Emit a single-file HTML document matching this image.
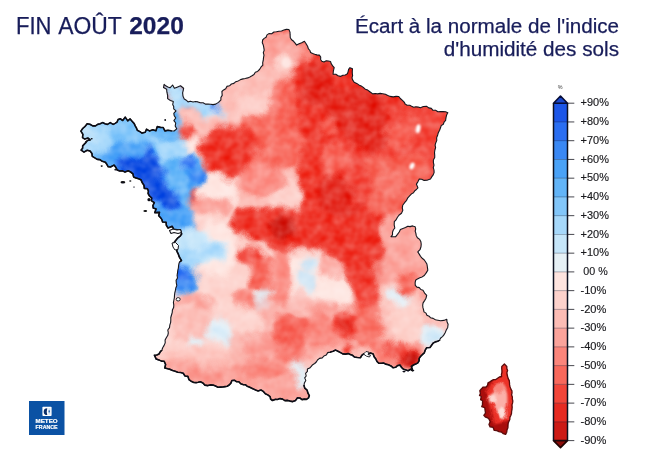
<!DOCTYPE html>
<html lang="fr"><head><meta charset="utf-8"><title>Écart à la normale de l'indice d'humidité des sols</title>
<style>
html,body{margin:0;padding:0;background:#fff;}
body{width:650px;height:462px;overflow:hidden;font-family:"Liberation Sans",sans-serif;}
svg{display:block;}
text{font-family:"Liberation Sans",sans-serif;}
</style></head><body>
<svg width="650" height="462" viewBox="0 0 650 462">
<defs>
<clipPath id="fr"><path d="M80.9,131.1 L82.7,128.5 L85.0,126.5 L87.2,123.7 L89.9,124.3 L92.8,125.9 L95.5,125.9 L97.7,124.4 L100.2,123.8 L102.6,122.6 L105.0,123.7 L107.5,124.4 L110.3,122.6 L113.1,124.4 L115.1,123.4 L117.0,122.1 L118.1,119.6 L120.2,118.7 L122.7,120.5 L125.2,117.1 L127.8,120.9 L130.1,118.9 L132.1,121.3 L134.2,123.6 L135.2,125.8 L136.4,127.9 L137.3,130.2 L139.5,131.4 L142.0,133.1 L145.2,132.2 L146.5,129.2 L149.4,130.9 L152.8,129.7 L155.9,130.8 L157.3,126.6 L160.5,127.4 L163.2,127.5 L164.9,130.9 L168.0,130.3 L171.0,130.7 L174.1,131.0 L176.7,128.8 L175.2,126.1 L175.7,123.0 L173.9,120.6 L175.7,118.0 L174.2,115.6 L173.8,113.4 L176.0,110.8 L173.7,108.9 L173.7,106.6 L172.7,104.5 L173.3,101.6 L170.4,100.5 L167.6,98.6 L167.6,95.4 L166.9,92.2 L166.6,89.2 L163.5,87.6 L164.1,84.3 L165.7,85.8 L167.9,86.9 L170.0,87.8 L172.6,85.0 L174.4,88.3 L176.5,87.4 L180.5,85.8 L183.6,88.3 L183.2,90.6 L182.6,92.9 L183.0,96.1 L184.3,99.1 L186.3,100.2 L188.0,101.9 L190.5,101.3 L193.0,102.0 L195.5,101.5 L198.0,101.9 L200.4,102.8 L203.1,102.7 L205.4,104.1 L208.0,104.0 L210.6,104.2 L213.1,104.6 L215.6,104.1 L218.5,102.4 L220.9,99.9 L220.9,97.5 L222.2,95.4 L221.9,91.5 L223.6,89.9 L225.7,88.7 L226.9,86.4 L229.5,85.8 L231.4,84.0 L233.9,83.4 L235.8,81.7 L238.3,80.9 L240.5,79.6 L243.0,78.9 L245.3,78.5 L247.7,77.9 L249.9,77.0 L252.0,75.8 L254.0,74.5 L255.3,72.2 L257.6,71.4 L259.5,69.5 L260.9,67.2 L262.8,65.2 L262.7,62.7 L263.3,60.2 L263.5,57.7 L264.0,55.2 L263.3,52.7 L264.2,50.1 L263.8,47.6 L263.3,45.1 L262.3,42.7 L262.6,40.0 L264.2,38.4 L266.1,37.2 L267.0,34.9 L268.9,33.6 L271.7,33.8 L273.9,32.0 L276.4,31.7 L279.0,31.2 L281.5,31.0 L283.9,30.0 L286.4,29.4 L288.9,29.5 L290.0,32.1 L290.1,34.9 L290.3,37.7 L291.6,39.7 L293.6,41.3 L295.1,43.2 L296.6,45.1 L299.1,43.8 L301.7,42.7 L304.4,41.3 L306.1,43.8 L307.7,46.5 L308.3,48.7 L309.9,50.5 L310.6,52.5 L312.6,53.5 L314.7,54.3 L316.9,54.9 L319.4,55.1 L320.7,57.0 L320.6,59.5 L321.8,61.3 L324.0,62.0 L326.2,60.8 L328.4,61.0 L330.5,61.5 L331.3,63.9 L332.7,65.8 L334.2,67.7 L333.4,70.8 L333.1,74.1 L335.8,74.3 L338.1,75.8 L340.5,76.4 L342.8,75.3 L345.3,75.0 L347.4,73.8 L348.1,71.6 L348.6,69.4 L349.9,67.7 L352.5,68.8 L352.3,71.1 L352.3,73.3 L352.6,75.6 L352.0,77.8 L352.6,79.9 L354.2,82.2 L356.7,83.4 L358.9,84.9 L361.2,86.0 L363.3,87.4 L365.3,89.2 L367.7,90.1 L370.2,92.0 L372.7,93.9 L375.2,93.5 L377.7,93.9 L380.2,93.4 L382.7,93.8 L385.4,94.3 L387.8,95.5 L390.3,96.4 L393.2,96.9 L396.1,96.4 L398.8,96.5 L400.3,98.5 L402.2,100.2 L404.0,101.9 L405.3,104.1 L407.2,105.3 L409.7,105.3 L411.6,106.3 L413.7,107.3 L416.0,106.8 L418.2,107.1 L420.4,107.8 L423.4,106.5 L426.8,106.4 L428.7,107.9 L431.3,108.4 L433.0,110.3 L435.6,110.3 L437.9,111.7 L440.5,111.5 L443.1,111.6 L445.6,111.8 L447.8,112.7 L446.6,115.1 L446.0,117.7 L445.6,120.4 L444.1,122.1 L443.3,124.2 L441.2,125.6 L440.5,127.8 L439.6,130.3 L438.3,132.7 L437.6,135.3 L436.6,137.9 L436.8,140.4 L435.8,142.7 L435.1,145.1 L435.6,147.6 L434.9,150.0 L434.5,152.5 L434.7,155.1 L434.7,157.6 L433.4,160.0 L433.4,162.6 L434.0,165.1 L433.3,167.7 L434.0,170.2 L434.1,172.6 L433.2,174.9 L431.7,176.9 L430.5,179.1 L427.5,180.1 L424.1,180.4 L421.7,179.2 L419.3,179.1 L418.0,181.6 L416.4,184.1 L417.9,187.8 L416.4,189.5 L414.7,190.9 L413.5,192.7 L411.5,193.9 L409.6,195.8 L407.8,197.8 L406.6,200.3 L404.6,202.7 L402.7,205.3 L402.3,207.9 L402.8,210.4 L401.5,213.3 L398.9,215.3 L397.3,217.5 L396.0,219.9 L394.3,221.7 L394.2,224.9 L394.8,228.0 L393.3,230.0 L392.5,232.2 L392.5,234.8 L391.0,236.6 L393.4,236.8 L395.7,236.6 L397.5,234.3 L399.2,232.0 L400.4,229.4 L402.9,228.4 L405.5,227.5 L407.8,226.2 L410.1,226.6 L412.6,225.9 L415.1,226.7 L415.7,228.8 L415.2,231.1 L415.9,233.3 L416.2,235.4 L417.4,237.8 L419.7,239.4 L420.9,241.8 L421.2,244.3 L421.0,246.8 L420.0,249.7 L417.8,251.9 L419.2,254.1 L420.5,256.3 L422.1,258.2 L424.1,259.8 L425.5,261.8 L426.9,264.0 L427.4,267.1 L427.8,270.2 L426.2,272.9 L424.3,275.5 L422.2,276.9 L419.8,277.8 L417.5,278.9 L415.6,280.3 L415.1,282.8 L415.3,285.4 L416.9,287.1 L419.3,287.6 L420.8,289.5 L423.0,290.3 L424.6,293.1 L426.7,295.4 L426.0,298.2 L424.6,300.6 L423.1,302.9 L422.7,305.2 L422.9,307.4 L423.5,309.6 L424.0,311.9 L426.0,313.1 L426.9,315.3 L429.1,316.2 L430.6,317.8 L433.1,318.4 L435.4,319.8 L437.9,320.2 L440.5,320.7 L443.8,320.4 L446.8,319.2 L447.0,321.8 L448.1,324.3 L447.7,327.4 L446.3,329.9 L445.3,332.5 L443.9,334.9 L442.5,336.6 L440.7,338.0 L439.6,340.1 L437.7,341.3 L435.3,341.9 L433.2,343.1 L431.6,345.2 L430.0,347.5 L426.7,347.7 L425.2,350.2 L424.3,352.8 L422.3,354.7 L420.5,356.5 L419.2,358.4 L419.1,360.8 L417.8,362.9 L415.7,364.1 L413.4,365.0 L411.4,366.5 L412.7,370.6 L410.6,369.3 L408.1,370.7 L406.0,370.0 L403.6,369.3 L401.6,367.5 L400.1,365.1 L397.6,365.5 L395.6,367.3 L393.2,367.8 L391.0,365.9 L388.4,364.7 L385.6,364.1 L383.5,363.0 L381.1,363.2 L378.7,363.1 L377.0,361.5 L375.8,358.9 L374.1,356.7 L373.2,353.9 L370.6,352.9 L367.6,354.0 L364.0,353.7 L361.8,355.3 L360.5,357.7 L357.4,357.5 L354.4,357.0 L352.6,355.3 L350.3,354.6 L348.1,353.6 L345.4,354.1 L342.8,353.9 L340.5,352.6 L337.9,351.2 L335.6,350.1 L333.1,351.2 L330.5,352.1 L327.7,352.6 L326.3,355.0 L323.9,356.0 L322.3,357.9 L319.5,358.4 L317.5,360.0 L316.3,362.0 L314.7,363.5 L312.7,364.7 L311.3,366.4 L309.7,368.0 L307.4,369.0 L307.4,371.4 L305.6,373.3 L306.2,376.0 L304.7,377.9 L305.8,380.4 L304.4,383.0 L304.0,385.5 L304.8,388.2 L307.1,390.2 L307.9,392.9 L309.3,395.7 L308.5,397.9 L306.5,399.4 L304.3,399.1 L302.0,399.6 L299.9,398.0 L297.5,397.7 L295.6,400.4 L292.8,401.6 L290.2,401.1 L287.7,400.4 L284.9,400.6 L282.6,399.1 L280.0,398.6 L277.5,399.5 L275.0,399.4 L272.5,400.5 L270.6,399.0 L270.1,396.6 L267.8,394.9 L265.3,393.7 L263.3,391.4 L261.0,390.0 L258.1,390.9 L255.6,390.0 L253.3,388.9 L251.3,388.0 L249.2,387.0 L247.1,386.2 L245.3,384.7 L243.0,384.6 L240.7,383.7 L238.9,381.8 L236.4,381.6 L234.4,380.2 L231.9,380.5 L230.9,383.1 L229.2,385.0 L227.2,386.2 L225.0,386.6 L222.8,387.0 L220.5,387.1 L217.9,387.2 L215.5,386.1 L213.0,385.1 L210.5,384.9 L207.8,385.6 L204.9,385.1 L202.9,383.0 L200.4,381.7 L198.2,382.3 L196.0,382.6 L193.8,382.5 L191.7,381.6 L189.0,379.7 L187.9,376.4 L185.0,376.0 L183.2,373.3 L180.5,372.5 L177.7,372.2 L175.2,371.2 L172.6,370.5 L170.2,369.4 L167.7,368.8 L164.8,367.9 L165.6,364.5 L164.1,361.2 L161.4,361.1 L158.9,359.9 L156.2,359.1 L154.4,355.2 L156.8,355.0 L159.0,354.0 L160.2,351.9 L161.9,350.0 L162.7,347.7 L164.1,345.4 L165.2,342.9 L165.1,340.0 L166.3,337.7 L167.8,335.3 L168.3,332.8 L167.8,330.0 L169.5,327.7 L169.8,325.1 L170.6,322.7 L170.8,320.1 L170.8,317.5 L171.5,315.0 L172.2,312.6 L172.4,310.1 L173.6,307.6 L173.8,305.1 L173.4,302.5 L173.9,300.0 L174.4,297.6 L174.5,295.2 L174.8,292.8 L175.4,290.4 L175.8,288.0 L176.8,285.6 L176.3,283.0 L176.1,280.4 L177.5,278.0 L177.1,275.4 L177.5,272.9 L177.8,270.3 L178.4,267.8 L178.6,265.3 L179.1,262.9 L181.5,260.4 L180.2,258.5 L179.1,256.5 L178.3,254.0 L177.0,251.6 L176.6,249.0 L175.1,247.1 L174.6,244.9 L174.0,242.7 L175.9,240.2 L177.9,237.8 L180.1,236.2 L181.7,233.9 L180.3,230.0 L177.1,229.7 L173.8,229.3 L172.2,226.3 L168.1,228.1 L166.3,225.3 L166.1,222.2 L162.6,222.0 L161.8,219.4 L160.4,217.5 L158.7,215.7 L159.5,212.4 L154.8,212.6 L156.1,208.9 L153.2,207.9 L152.9,205.5 L154.3,202.7 L151.3,200.6 L151.7,198.0 L149.4,195.9 L148.1,193.5 L148.4,191.0 L147.4,188.7 L144.3,188.4 L144.0,185.4 L142.3,182.8 L140.9,179.7 L138.5,178.7 L135.9,177.9 L133.6,176.9 L132.9,173.8 L130.6,172.0 L128.2,170.8 L125.0,172.1 L122.6,170.9 L119.7,171.0 L117.2,170.0 L115.6,167.1 L114.0,165.1 L110.5,167.0 L108.1,166.7 L106.8,164.3 L105.4,162.3 L102.2,161.3 L99.9,159.6 L97.2,159.4 L94.8,157.9 L92.3,156.4 L91.9,153.4 L90.1,151.1 L87.2,150.3 L84.0,152.1 L81.1,150.1 L82.6,148.3 L82.7,145.9 L84.1,144.4 L85.8,142.6 L87.4,140.5 L90.1,139.9 L88.0,138.0 L84.8,139.1 L82.5,137.6 L82.9,134.3Z"/><path d="M504.4,364.0 L506.8,366.5 L506.8,368.5 L507.6,370.5 L506.9,372.5 L507.1,374.5 L507.6,376.5 L508.2,378.6 L509.3,380.6 L509.5,382.8 L509.6,384.9 L510.1,386.9 L510.8,388.9 L511.9,390.8 L512.0,392.9 L511.6,394.9 L512.4,396.9 L512.3,398.9 L512.8,400.9 L512.6,402.9 L512.0,404.9 L512.2,407.1 L512.0,409.3 L511.6,411.3 L511.5,413.5 L510.8,415.5 L509.9,417.4 L509.8,419.5 L508.9,421.4 L508.2,423.4 L508.0,425.5 L507.9,427.8 L507.0,429.9 L506.7,432.2 L505.6,434.4 L503.3,433.7 L501.4,432.1 L498.9,431.7 L496.8,430.6 L494.1,430.3 L493.1,427.3 L490.1,426.9 L489.0,424.5 L490.1,421.7 L489.2,419.4 L487.7,417.9 L485.6,417.2 L483.8,415.4 L485.5,413.1 L485.2,410.8 L484.7,407.6 L481.7,406.7 L482.5,404.7 L482.5,402.5 L482.6,400.7 L480.6,399.6 L481.3,396.5 L479.5,395.5 L480.4,393.4 L479.8,390.7 L481.5,388.8 L482.9,387.1 L486.0,387.0 L487.5,385.4 L488.0,382.8 L489.9,381.8 L491.7,380.6 L493.5,379.6 L495.8,379.5 L497.6,378.2 L499.4,377.0 L501.6,376.5 L501.4,374.5 L501.9,372.5 L501.9,370.5 L501.7,368.5 L501.8,366.4Z"/></clipPath>
<filter id="bl" x="-10%" y="-10%" width="120%" height="120%" color-interpolation-filters="sRGB">
<feGaussianBlur stdDeviation="2.4" result="g"/>
<feTurbulence type="fractalNoise" baseFrequency="0.045" numOctaves="3" seed="7" result="n"/>
<feDisplacementMap in="g" in2="n" scale="16" xChannelSelector="R" yChannelSelector="G" result="d"/>
<feGaussianBlur in="d" stdDeviation="0.7" result="d2"/>
<feTurbulence type="fractalNoise" baseFrequency="0.09" numOctaves="2" seed="11" result="t"/>
<feColorMatrix in="t" type="matrix" values="1 0 0 0 0  1 0 0 0 0  1 0 0 0 0  0 0 0 0 1" result="tm"/>
<feComposite in="d2" in2="tm" operator="arithmetic" k1="-0.48" k2="1.202" k3="0.48" k4="-0.202"/>
</filter>
<clipPath id="co"><path d="M504.4,364.0 L506.8,366.5 L506.8,368.5 L507.6,370.5 L506.9,372.5 L507.1,374.5 L507.6,376.5 L508.2,378.6 L509.3,380.6 L509.5,382.8 L509.6,384.9 L510.1,386.9 L510.8,388.9 L511.9,390.8 L512.0,392.9 L511.6,394.9 L512.4,396.9 L512.3,398.9 L512.8,400.9 L512.6,402.9 L512.0,404.9 L512.2,407.1 L512.0,409.3 L511.6,411.3 L511.5,413.5 L510.8,415.5 L509.9,417.4 L509.8,419.5 L508.9,421.4 L508.2,423.4 L508.0,425.5 L507.9,427.8 L507.0,429.9 L506.7,432.2 L505.6,434.4 L503.3,433.7 L501.4,432.1 L498.9,431.7 L496.8,430.6 L494.1,430.3 L493.1,427.3 L490.1,426.9 L489.0,424.5 L490.1,421.7 L489.2,419.4 L487.7,417.9 L485.6,417.2 L483.8,415.4 L485.5,413.1 L485.2,410.8 L484.7,407.6 L481.7,406.7 L482.5,404.7 L482.5,402.5 L482.6,400.7 L480.6,399.6 L481.3,396.5 L479.5,395.5 L480.4,393.4 L479.8,390.7 L481.5,388.8 L482.9,387.1 L486.0,387.0 L487.5,385.4 L488.0,382.8 L489.9,381.8 L491.7,380.6 L493.5,379.6 L495.8,379.5 L497.6,378.2 L499.4,377.0 L501.6,376.5 L501.4,374.5 L501.9,372.5 L501.9,370.5 L501.7,368.5 L501.8,366.4Z"/></clipPath>
<filter id="cf" x="-20%" y="-20%" width="140%" height="140%" color-interpolation-filters="sRGB">
<feGaussianBlur stdDeviation="1.3" result="g"/>
<feTurbulence type="fractalNoise" baseFrequency="0.12" numOctaves="2" seed="4" result="n"/>
<feDisplacementMap in="g" in2="n" scale="6" xChannelSelector="R" yChannelSelector="G"/>
</filter>
<clipPath id="brc"><path d="M70,110 L172,110 L172,135 L150,140 L150,160 L172,215 L188,225 L188,262 L160,262 L70,170 Z"/><path d="M148,350 L168,350 L168,362 L300,385 L316,385 L316,410 L148,410 Z"/><path d="M330,340 L452,340 L452,376 L330,376 Z"/></clipPath>
<filter id="soft2" x="-50%" y="-50%" width="200%" height="200%"><feGaussianBlur stdDeviation="0.8"/></filter>
<filter id="soft" x="-5%" y="-5%" width="110%" height="110%"><feGaussianBlur stdDeviation="0.35"/></filter>
</defs>
<rect width="650" height="462" fill="#ffffff"/>
<g clip-path="url(#fr)">
<g filter="url(#bl)">
<rect x="40" y="0" width="520" height="462" fill="#f2453a"/>
<polygon points="140.0,240.0 330.0,240.0 330.0,420.0 140.0,420.0" fill="#fdd3cd"/>
<polygon points="60.0,100.0 185.0,100.0 185.0,240.0 140.0,240.0 60.0,170.0" fill="#62b4f8"/>
<polygon points="380.0,225.0 470.0,225.0 470.0,380.0 380.0,380.0" fill="#fba39b"/>
<polygon points="219.8,87.3 262.2,64.9 262.2,32.5 292.1,27.5 294.6,42.4 302.1,49.9 295.8,69.9 284.6,89.8 279.6,107.3 272.2,122.2 242.3,127.2 219.8,124.7" fill="#fcbdb6"/>
<polygon points="263.4,33.7 290.9,28.7 293.3,43.7 299.6,51.2 293.3,67.4 277.1,69.9 264.7,62.4" fill="#fba39b"/>
<polygon points="280.4,54.4 287.9,54.4 291.6,59.0 291.6,68.2 287.9,72.9 280.4,72.9 276.7,68.2 276.7,59.0" fill="#fdd3cd"/>
<polygon points="245.4,92.3 266.6,92.3 277.1,99.2 277.1,112.9 266.6,119.7 245.4,119.7 234.8,112.9 234.8,99.2" fill="#fdd3cd" opacity="0.7"/>
<polygon points="264.7,107.3 274.7,107.3 279.6,110.4 279.6,116.6 274.7,119.7 264.7,119.7 259.7,116.6 259.7,110.4" fill="#fdd3cd"/>
<polygon points="293.3,40.0 309.6,44.9 309.6,99.8 279.6,124.7 277.1,107.3 283.4,89.8 294.6,69.9 300.8,49.9" fill="#f7685c" opacity="0.9"/>
<polygon points="299.6,54.9 322.0,49.9 322.0,139.9 284.6,139.9 284.6,107.3 292.1,82.3" fill="#ee3226"/>
<polygon points="162.5,82.3 184.9,84.8 186.2,98.5 221.1,101.0 222.3,116.0 209.9,118.5 197.4,111.0 184.9,109.7 173.7,113.5 171.2,99.8 163.7,92.3" fill="#a6d8fb"/>
<polygon points="171.2,87.3 178.7,87.3 182.4,90.4 182.4,96.7 178.7,99.8 171.2,99.8 167.5,96.7 167.5,90.4" fill="#c6e6fa" opacity="0.8"/>
<polygon points="212.3,107.3 219.8,107.3 223.6,113.5 223.6,125.9 219.8,132.2 212.3,132.2 208.6,125.9 208.6,113.5" fill="#c6e6fa"/>
<polygon points="216.0,102.8 218.2,102.8 219.3,105.1 219.3,109.9 218.2,112.2 216.0,112.2 214.8,109.9 214.8,105.1" fill="#2a6ef2"/>
<polygon points="175.0,111.0 197.4,111.0 209.9,118.5 209.9,134.7 175.0,134.7" fill="#fcbdb6"/>
<polygon points="163.7,128.4 171.2,128.4 175.0,130.3 175.0,134.0 171.2,135.9 163.7,135.9 160.0,134.0 160.0,130.3" fill="#fdd3cd"/>
<polygon points="163.1,129.7 169.3,129.7 172.5,130.9 172.5,133.4 169.3,134.7 163.1,134.7 160.0,133.4 160.0,130.9" fill="#c6e6fa" opacity="0.7"/>
<polygon points="181.5,124.7 192.1,124.7 197.4,129.1 197.4,137.8 192.1,142.1 181.5,142.1 176.2,137.8 176.2,129.1" fill="#f2453a"/>
<polygon points="222.3,123.5 242.3,127.2 272.2,122.2 284.6,124.7 284.6,142.1 222.3,142.1" fill="#f2453a"/>
<polygon points="300.0,40.0 462.0,107.3 462.0,142.1 300.0,142.1" fill="#ee3226"/>
<polygon points="302.6,42.4 307.9,42.4 310.5,47.1 310.5,56.5 307.9,61.1 302.6,61.1 300.0,56.5 300.0,47.1" fill="#fa867c"/>
<polygon points="311.2,62.4 326.2,62.4 333.6,72.4 333.6,92.3 326.2,102.3 311.2,102.3 303.7,92.3 303.7,72.4" fill="#e4281e"/>
<polygon points="357.3,84.8 374.8,84.8 383.5,95.4 383.5,116.6 374.8,127.2 357.3,127.2 348.6,116.6 348.6,95.4" fill="#e4281e"/>
<polygon points="324.9,87.3 354.8,92.3 364.8,124.7 339.9,129.7 322.4,107.3" fill="#e4281e" opacity="0.8"/>
<polygon points="319.9,116.0 332.4,116.0 338.6,121.0 338.6,130.9 332.4,135.9 319.9,135.9 313.7,130.9 313.7,121.0" fill="#f7685c" opacity="0.8"/>
<polygon points="386.0,108.5 449.6,109.7 439.6,142.1 386.0,142.1" fill="#f2453a"/>
<polygon points="404.1,114.7 412.8,114.7 417.1,118.5 417.1,125.9 412.8,129.7 404.1,129.7 399.7,125.9 399.7,118.5" fill="#f7685c" opacity="0.7"/>
<polygon points="357.3,112.5 374.8,112.5 383.5,122.5 383.5,142.4 374.8,152.4 357.3,152.4 348.6,142.4 348.6,122.5" fill="#e4281e"/>
<polygon points="320.6,177.3 341.7,177.3 352.3,188.5 352.3,211.0 341.7,222.2 320.6,222.2 310.0,211.0 310.0,188.5" fill="#e4281e"/>
<polygon points="300.0,209.7 364.8,207.2 364.8,232.1 300.0,232.1" fill="#e4281e"/>
<polygon points="319.3,148.6 340.5,148.6 351.1,154.9 351.1,167.3 340.5,173.6 319.3,173.6 308.7,167.3 308.7,154.9" fill="#f7685c" opacity="0.8"/>
<polygon points="390.7,126.2 407.5,126.2 415.9,131.2 415.9,141.2 407.5,146.2 390.7,146.2 382.3,141.2 382.3,131.2" fill="#f7685c" opacity="0.8"/>
<polygon points="366.1,157.4 424.6,154.9 429.6,177.3 404.7,214.7 369.8,214.7" fill="#f7685c" opacity="0.85"/>
<polygon points="382.3,172.3 397.2,172.3 404.7,178.6 404.7,191.0 397.2,197.3 382.3,197.3 374.8,191.0 374.8,178.6" fill="#fa867c" opacity="0.6"/>
<polygon points="242.3,115.0 284.6,115.0 322.0,139.9 322.0,177.3 242.3,177.3" fill="#f7685c" opacity="0.9"/>
<polygon points="279.6,115.0 322.0,115.0 322.0,142.4 299.6,137.4" fill="#ee3226"/>
<polygon points="299.6,139.9 322.0,139.9 322.0,232.1 299.6,232.1" fill="#ee3226" opacity="0.9"/>
<polygon points="184.9,115.0 222.3,115.0 222.3,147.4 202.4,149.9 184.9,144.9" fill="#fcbdb6"/>
<polygon points="183.7,138.7 203.6,141.2 204.9,166.1 184.9,164.9" fill="#fee6e1"/>
<polygon points="194.9,171.1 242.3,171.1 244.7,214.7 222.3,219.7 197.4,197.3" fill="#fee6e1"/>
<polygon points="234.8,168.6 299.6,164.9 300.8,214.7 234.8,214.7" fill="#fcbdb6"/>
<polygon points="275.3,178.6 291.5,178.6 299.6,187.0 299.6,203.8 291.5,212.2 275.3,212.2 267.2,203.8 267.2,187.0" fill="#fdd3cd" opacity="0.9"/>
<polygon points="242.9,168.6 259.1,168.6 267.2,173.3 267.2,182.6 259.1,187.3 242.9,187.3 234.8,182.6 234.8,173.3" fill="#fba39b" opacity="0.8"/>
<polygon points="265.9,144.9 288.4,144.9 299.6,150.8 299.6,162.7 288.4,168.6 265.9,168.6 254.7,162.7 254.7,150.8" fill="#fa867c" opacity="0.7"/>
<polygon points="197.4,198.5 219.8,198.5 231.0,206.9 231.0,223.7 219.8,232.1 197.4,232.1 186.2,223.7 186.2,206.9" fill="#fba39b"/>
<polygon points="234.8,211.0 322.0,208.5 322.0,232.1 234.8,232.1" fill="#f2453a"/>
<polygon points="259.7,217.2 322.0,214.7 322.0,232.1 259.7,232.1" fill="#ee3226"/>
<polygon points="201.1,138.7 222.3,121.2 246.0,126.2 256.0,137.4 258.5,156.1 249.7,171.1 229.8,176.1 209.9,172.3 198.6,154.9" fill="#f2453a"/>
<polygon points="203.6,139.9 222.3,125.0 243.5,130.0 252.2,144.9 247.2,166.1 229.8,172.8 211.1,170.3 201.9,154.9" fill="#ee3226"/>
<polygon points="181.6,124.5 190.8,124.5 195.4,127.2 195.4,132.7 190.8,135.4 181.6,135.4 176.9,132.7 176.9,127.2" fill="#f2453a"/>
<polygon points="160.0,133.7 184.9,134.9 186.2,158.6 160.0,158.6" fill="#a6d8fb"/>
<polygon points="160.0,157.4 197.4,157.4 208.6,174.8 207.4,184.8 197.4,189.8 187.4,202.2 193.6,232.1 160.0,232.1" fill="#4aa2f7"/>
<polygon points="183.8,159.4 190.0,159.4 193.2,161.9 193.2,166.8 190.0,169.3 183.8,169.3 180.7,166.8 180.7,161.9" fill="#2a6ef2"/>
<polygon points="195.0,169.3 204.1,169.3 208.6,172.9 208.6,180.0 204.1,183.5 195.0,183.5 190.4,180.0 190.4,172.9" fill="#3a88f4"/>
<polygon points="162.0,188.5 171.0,188.5 175.5,192.9 175.5,201.6 171.0,206.0 162.0,206.0 157.5,201.6 157.5,192.9" fill="#1450e2"/>
<polygon points="272.0,84.0 296.0,80.0 300.0,120.0 296.0,165.0 270.0,165.0 266.0,120.0" fill="#f7685c" opacity="0.8"/>
<polygon points="242.0,166.0 282.0,164.0 286.0,190.0 262.0,196.0 240.0,190.0" fill="#fa867c" opacity="0.85"/>
<polygon points="188.0,200.0 228.0,198.0 232.0,230.0 190.0,232.0" fill="#fba39b" opacity="0.7"/>
<polygon points="73.0,115.0 175.2,110.0 185.2,157.4 187.7,232.1 152.8,232.1 73.0,164.9" fill="#62b4f8"/>
<polygon points="91.7,123.7 152.8,123.7 152.8,144.9 127.9,152.4 93.0,149.9" fill="#82c6fa"/>
<polygon points="100.4,142.4 142.8,139.9 162.7,159.9 164.0,199.7 182.7,232.1 147.8,232.1 122.9,179.8 101.7,162.4" fill="#4aa2f7"/>
<polygon points="73.0,122.5 107.9,120.0 109.2,144.9 100.4,154.9 73.0,157.4" fill="#a6d8fb"/>
<polygon points="73.0,125.0 95.4,125.0 95.4,144.9 73.0,144.9" fill="#c6e6fa" opacity="0.7"/>
<polygon points="152.8,138.7 182.7,138.7 183.9,159.9 160.3,158.6" fill="#a6d8fb"/>
<polygon points="157.8,157.4 187.7,157.4 188.9,232.1 175.2,232.1 160.3,197.3" fill="#62b4f8" opacity="0.8"/>
<polygon points="120.4,161.1 140.3,156.1 146.5,144.9 156.5,156.1 162.7,164.9 160.3,177.3 165.2,186.0 177.7,193.5 181.4,211.0 162.7,211.0 150.3,198.5 140.8,188.5 136.6,181.1 127.9,176.8 120.4,171.1" fill="#2a6ef2"/>
<polygon points="122.9,161.9 140.3,158.6 145.8,146.9 154.3,157.9 159.8,164.9 157.3,177.3 162.2,186.8 174.7,194.3 177.7,207.2 162.7,207.2 152.3,196.8 142.8,186.8 138.6,179.3 130.3,175.3 122.9,169.8" fill="#1450e2"/>
<polygon points="183.8,159.4 190.0,159.4 193.2,161.9 193.2,166.8 190.0,169.3 183.8,169.3 180.7,166.8 180.7,161.9" fill="#2a6ef2"/>
<polygon points="195.0,170.3 203.7,170.3 208.1,174.1 208.1,181.6 203.7,185.3 195.0,185.3 190.7,181.6 190.7,174.1" fill="#3a88f4"/>
<polygon points="194.9,215.0 234.7,215.0 234.7,230.0 249.7,239.9 254.7,332.1 194.9,332.1 192.4,289.8" fill="#fdd3cd"/>
<polygon points="206.7,222.5 225.4,222.5 234.7,236.2 234.7,263.6 225.4,277.3 206.7,277.3 197.4,263.6 197.4,236.2" fill="#fee6e1"/>
<polygon points="155.0,212.5 193.6,212.5 193.6,230.0 165.0,232.4" fill="#4aa2f7"/>
<polygon points="173.7,230.0 194.9,227.5 224.8,242.4 224.8,259.9 199.9,264.9 174.9,262.4" fill="#c6e6fa"/>
<polygon points="206.3,241.2 216.6,241.2 221.8,245.1 221.8,252.9 216.6,256.9 206.3,256.9 201.1,252.9 201.1,245.1" fill="#a6d8fb" opacity="0.8"/>
<polygon points="181.5,247.4 194.6,247.4 201.1,251.9 201.1,260.9 194.6,265.3 181.5,265.3 174.9,260.9 174.9,251.9" fill="#a6d8fb"/>
<polygon points="172.4,262.4 193.6,263.6 196.9,289.8 187.4,296.0 172.4,292.3" fill="#4aa2f7"/>
<polygon points="172.4,262.9 191.1,263.9 193.6,287.3 186.1,292.3 172.4,289.8" fill="#3a88f4"/>
<polygon points="177.6,263.6 185.5,263.6 189.4,267.5 189.4,275.4 185.5,279.3 177.6,279.3 173.7,275.4 173.7,267.5" fill="#2a6ef2"/>
<polygon points="233.5,212.5 312.0,212.5 312.0,246.2 289.6,248.6 267.1,242.9 249.7,240.4 233.5,230.0" fill="#ee3226"/>
<polygon points="294.9,218.7 308.0,218.7 314.5,223.7 314.5,233.7 308.0,238.7 294.9,238.7 288.3,233.7 288.3,223.7" fill="#e4281e"/>
<polygon points="244.7,246.9 257.2,246.9 263.4,250.9 263.4,258.9 257.2,262.9 244.7,262.9 238.5,258.9 238.5,250.9" fill="#f2453a"/>
<polygon points="249.7,257.4 289.6,256.1 290.8,289.8 249.7,289.8" fill="#f7685c"/>
<polygon points="240.1,289.3 251.8,289.3 257.7,294.5 257.7,305.0 251.8,310.2 240.1,310.2 234.2,305.0 234.2,294.5" fill="#fa867c"/>
<polygon points="181.8,296.8 203.0,296.8 213.6,305.6 213.6,323.3 203.0,332.1 181.8,332.1 171.2,323.3 171.2,305.6" fill="#fba39b"/>
<polygon points="217.7,309.2 229.4,309.2 235.2,315.0 235.2,326.4 229.4,332.1 217.7,332.1 211.8,326.4 211.8,315.0" fill="#e4eff6"/>
<polygon points="261.3,289.3 270.5,289.3 275.1,297.0 275.1,312.5 270.5,320.2 261.3,320.2 256.7,312.5 256.7,297.0" fill="#e4eff6"/>
<polygon points="302.9,256.9 310.6,256.9 314.5,265.2 314.5,281.9 310.6,290.3 302.9,290.3 299.1,281.9 299.1,265.2" fill="#e4eff6"/>
<polygon points="289.6,284.8 312.0,284.8 312.0,332.1 289.6,332.1" fill="#fcbdb6"/>
<polygon points="295.4,315.2 301.2,315.2 304.0,319.4 304.0,327.9 301.2,332.1 295.4,332.1 292.6,327.9 292.6,319.4" fill="#f7685c" opacity="0.9"/>
<polygon points="270.0,249.9 354.8,249.9 354.8,314.7 270.0,314.7" fill="#fdd3cd"/>
<polygon points="290.0,257.4 329.9,254.9 349.8,279.9 351.0,312.3 295.0,312.3 287.5,284.8" fill="#fee6e1"/>
<polygon points="307.3,256.9 312.0,256.9 314.4,260.7 314.4,268.1 312.0,271.9 307.3,271.9 304.9,268.1 304.9,260.7" fill="#c6e6fa" opacity="0.9"/>
<polygon points="303.4,272.9 313.4,272.9 318.4,277.5 318.4,286.7 313.4,291.3 303.4,291.3 298.4,286.7 298.4,277.5" fill="#c6e6fa" opacity="0.8"/>
<polygon points="275.3,245.0 285.9,245.0 291.2,259.9 291.2,289.8 285.9,304.8 275.3,304.8 270.0,289.8 270.0,259.9" fill="#fa867c" opacity="0.85"/>
<polygon points="323.6,249.9 336.1,249.9 342.3,256.2 342.3,268.6 336.1,274.9 323.6,274.9 317.4,268.6 317.4,256.2" fill="#fba39b" opacity="0.8"/>
<polygon points="270.0,212.6 394.7,212.6 394.7,254.9 337.3,257.4 304.9,247.4 270.0,247.4" fill="#ee3226"/>
<polygon points="276.9,217.5 290.6,217.5 297.4,222.5 297.4,232.5 290.6,237.5 276.9,237.5 270.0,232.5 270.0,222.5" fill="#c81812" opacity="0.8"/>
<polygon points="336.1,245.0 390.9,245.0 384.7,269.9 379.7,289.8 349.8,289.8 342.3,267.4" fill="#ee3226"/>
<polygon points="348.5,279.9 380.9,279.9 376.0,309.8 354.8,309.8" fill="#f2453a"/>
<polygon points="353.5,302.3 376.0,302.3 379.7,347.1 354.8,347.1" fill="#f7685c"/>
<polygon points="378.5,254.9 385.9,254.9 389.7,263.0 389.7,279.2 385.9,287.3 378.5,287.3 374.7,279.2 374.7,263.0" fill="#fdd3cd" opacity="0.5"/>
<polygon points="328.6,307.3 358.5,306.0 359.8,339.7 329.9,340.9" fill="#f2453a"/>
<polygon points="342.4,313.7 349.7,313.7 353.3,319.2 353.3,330.2 349.7,335.7 342.4,335.7 338.8,330.2 338.8,319.2" fill="#e4281e"/>
<polygon points="270.0,312.3 329.9,312.3 329.9,347.1 270.0,347.1" fill="#fba39b"/>
<polygon points="293.1,316.0 301.8,316.0 306.2,322.2 306.2,334.7 301.8,340.9 293.1,340.9 288.7,334.7 288.7,322.2" fill="#f7685c" opacity="0.85"/>
<polygon points="383.4,212.6 434.5,212.6 434.5,293.6 383.4,293.6" fill="#fba39b"/>
<polygon points="378.5,286.8 420.8,286.8 420.8,313.5 378.5,313.5" fill="#fdd3cd" opacity="0.8"/>
<polygon points="394.2,291.3 405.1,291.3 410.6,294.9 410.6,302.2 405.1,305.8 394.2,305.8 388.7,302.2 388.7,294.9" fill="#e4eff6"/>
<polygon points="402.9,271.4 411.4,271.4 415.6,276.9 415.6,287.8 411.4,293.3 402.9,293.3 398.6,287.8 398.6,276.9" fill="#f7685c"/>
<polygon points="379.7,311.8 444.5,311.8 444.5,347.1 379.7,347.1" fill="#fcbdb6"/>
<polygon points="160.0,307.5 314.5,307.5 314.5,409.7 150.0,409.7" fill="#fdd3cd"/>
<polygon points="181.8,307.5 203.0,307.5 213.6,315.9 213.6,332.7 203.0,341.2 181.8,341.2 171.2,332.7 171.2,315.9" fill="#fcbdb6"/>
<polygon points="150.0,358.6 314.5,363.6 314.5,409.7 150.0,409.7" fill="#fba39b"/>
<polygon points="150.0,347.4 314.5,352.4 314.5,368.6 150.0,363.6" fill="#fcbdb6" opacity="0.7"/>
<polygon points="195.8,371.1 215.1,371.1 224.8,374.5 224.8,381.3 215.1,384.8 195.8,384.8 186.1,381.3 186.1,374.5" fill="#fa867c" opacity="0.6"/>
<polygon points="212.9,316.2 226.6,316.2 233.5,323.1 233.5,336.8 226.6,343.6 212.9,343.6 206.1,336.8 206.1,323.1" fill="#e4eff6"/>
<polygon points="216.1,322.5 223.5,322.5 227.3,326.2 227.3,333.7 223.5,337.4 216.1,337.4 212.3,333.7 212.3,326.2" fill="#c6e6fa" opacity="0.45"/>
<polygon points="192.4,338.7 199.9,338.7 203.6,341.2 203.6,346.1 199.9,348.6 192.4,348.6 188.6,346.1 188.6,341.2" fill="#e4eff6"/>
<polygon points="273.4,316.2 310.8,316.2 310.8,361.1 273.4,361.1" fill="#fa867c"/>
<polygon points="283.3,317.5 298.3,317.5 305.8,326.2 305.8,343.6 298.3,352.4 283.3,352.4 275.9,343.6 275.9,326.2" fill="#f7685c"/>
<polygon points="286.5,325.0 295.2,325.0 299.6,329.9 299.6,339.9 295.2,344.9 286.5,344.9 282.1,339.9 282.1,329.9" fill="#f2453a" opacity="0.8"/>
<polygon points="252.8,358.6 276.5,358.6 288.3,363.6 288.3,373.6 276.5,378.5 252.8,378.5 241.0,373.6 241.0,363.6" fill="#fa867c"/>
<polygon points="252.2,332.4 267.1,332.4 274.6,339.3 274.6,353.0 267.1,359.9 252.2,359.9 244.7,353.0 244.7,339.3" fill="#fba39b" opacity="0.8"/>
<polygon points="299.6,358.6 307.0,358.6 310.8,364.2 310.8,375.4 307.0,381.0 299.6,381.0 295.8,375.4 295.8,364.2" fill="#e4eff6"/>
<polygon points="305.0,307.5 454.5,307.5 454.5,374.8 305.0,374.8" fill="#fcbdb6"/>
<polygon points="397.8,307.5 416.5,307.5 425.8,315.9 425.8,332.7 416.5,341.2 397.8,341.2 388.5,332.7 388.5,315.9" fill="#fdd3cd" opacity="0.85"/>
<polygon points="292.2,316.2 301.5,316.2 306.2,324.3 306.2,340.5 301.5,348.6 292.2,348.6 287.5,340.5 287.5,324.3" fill="#f7685c"/>
<polygon points="313.1,315.0 329.3,315.0 337.4,322.5 337.4,337.4 329.3,344.9 313.1,344.9 305.0,337.4 305.0,322.5" fill="#fa867c" opacity="0.8"/>
<polygon points="340.8,312.5 352.6,312.5 358.5,319.3 358.5,333.1 352.6,339.9 340.8,339.9 334.9,333.1 334.9,319.3" fill="#f2453a"/>
<polygon points="343.3,319.5 348.8,319.5 351.6,322.8 351.6,329.6 348.8,332.9 343.3,332.9 340.6,329.6 340.6,322.8" fill="#e4281e"/>
<polygon points="342.7,344.4 349.4,344.4 352.8,346.5 352.8,350.8 349.4,352.9 342.7,352.9 339.4,350.8 339.4,346.5" fill="#f2453a"/>
<polygon points="354.3,302.5 377.7,302.5 382.7,347.4 356.8,348.6" fill="#f7685c" opacity="0.9"/>
<polygon points="373.5,341.2 420.9,341.2 420.9,368.6 373.5,368.6" fill="#fa867c"/>
<polygon points="388.8,341.9 398.1,341.9 402.7,345.3 402.7,352.0 398.1,355.4 388.8,355.4 384.2,352.0 384.2,345.3" fill="#f2453a"/>
<polygon points="405.3,349.9 416.5,349.9 422.1,354.6 422.1,363.9 416.5,368.6 405.3,368.6 399.7,363.9 399.7,354.6" fill="#e4281e"/>
<polygon points="407.9,353.9 415.4,353.9 419.1,357.0 419.1,363.2 415.4,366.3 407.9,366.3 404.2,363.2 404.2,357.0" fill="#c81812"/>
<polygon points="427.1,326.2 439.6,326.2 445.8,331.8 445.8,343.0 439.6,348.6 427.1,348.6 420.9,343.0 420.9,331.8" fill="#e4eff6"/>
<polygon points="432.7,332.4 438.9,332.4 442.0,335.5 442.0,341.8 438.9,344.9 432.7,344.9 429.6,341.8 429.6,335.5" fill="#c6e6fa" opacity="0.7"/>
<polygon points="296.9,358.6 303.1,358.6 306.2,365.5 306.2,379.2 303.1,386.0 296.9,386.0 293.7,379.2 293.7,365.5" fill="#e4eff6"/>
<polygon points="258.0,298.0 300.0,292.0 338.0,305.0 345.0,345.0 300.0,362.0 262.0,350.0" fill="#f7685c" opacity="0.3"/>
<polygon points="225.0,335.0 262.0,330.0 270.0,365.0 230.0,372.0" fill="#fa867c" opacity="0.3"/>
<polygon points="474.7,359.9 514.6,359.9 514.6,437.1 474.7,437.1" fill="#ee3226"/>
</g>
<g clip-path="url(#co)"><g filter="url(#cf)">
<rect x="470" y="355" width="50" height="90" fill="#ec3228"/>
<path d="M476,380 L496,376 L486,392 L490,408 L494,424 L506,438 L476,440 Z" fill="#a80e0c"/>
<path d="M488,426 L512,420 L510,440 L490,440 Z" fill="#a80e0c"/>
<ellipse cx="500" cy="399" rx="7.5" ry="16" fill="#fbb0a8"/>
<ellipse cx="502.5" cy="413" rx="4.2" ry="6" fill="#fde0da"/>
<ellipse cx="492.5" cy="399" rx="3.6" ry="5" fill="#fdd6d0"/>
<ellipse cx="499" cy="388" rx="5" ry="5" fill="#f8867c"/>
</g></g>
<g filter="url(#soft2)" fill="#ffffff">
<ellipse cx="418.2" cy="128.6" rx="2.3" ry="4.4" transform="rotate(10 418.2 128.6)"/>
<ellipse cx="412" cy="166" rx="2.2" ry="3.6" transform="rotate(25 412 166)"/>
<ellipse cx="286.5" cy="62.5" rx="4.5" ry="5.5" opacity="0.45"/>
</g>
</g>
<g filter="url(#soft)">
<path d="M80.9,131.1 L82.7,128.5 L85.0,126.5 L87.2,123.7 L89.9,124.3 L92.8,125.9 L95.5,125.9 L97.7,124.4 L100.2,123.8 L102.6,122.6 L105.0,123.7 L107.5,124.4 L110.3,122.6 L113.1,124.4 L115.1,123.4 L117.0,122.1 L118.1,119.6 L120.2,118.7 L122.7,120.5 L125.2,117.1 L127.8,120.9 L130.1,118.9 L132.1,121.3 L134.2,123.6 L135.2,125.8 L136.4,127.9 L137.3,130.2 L139.5,131.4 L142.0,133.1 L145.2,132.2 L146.5,129.2 L149.4,130.9 L152.8,129.7 L155.9,130.8 L157.3,126.6 L160.5,127.4 L163.2,127.5 L164.9,130.9 L168.0,130.3 L171.0,130.7 L174.1,131.0 L176.7,128.8 L175.2,126.1 L175.7,123.0 L173.9,120.6 L175.7,118.0 L174.2,115.6 L173.8,113.4 L176.0,110.8 L173.7,108.9 L173.7,106.6 L172.7,104.5 L173.3,101.6 L170.4,100.5 L167.6,98.6 L167.6,95.4 L166.9,92.2 L166.6,89.2 L163.5,87.6 L164.1,84.3 L165.7,85.8 L167.9,86.9 L170.0,87.8 L172.6,85.0 L174.4,88.3 L176.5,87.4 L180.5,85.8 L183.6,88.3 L183.2,90.6 L182.6,92.9 L183.0,96.1 L184.3,99.1 L186.3,100.2 L188.0,101.9 L190.5,101.3 L193.0,102.0 L195.5,101.5 L198.0,101.9 L200.4,102.8 L203.1,102.7 L205.4,104.1 L208.0,104.0 L210.6,104.2 L213.1,104.6 L215.6,104.1 L218.5,102.4 L220.9,99.9 L220.9,97.5 L222.2,95.4 L221.9,91.5 L223.6,89.9 L225.7,88.7 L226.9,86.4 L229.5,85.8 L231.4,84.0 L233.9,83.4 L235.8,81.7 L238.3,80.9 L240.5,79.6 L243.0,78.9 L245.3,78.5 L247.7,77.9 L249.9,77.0 L252.0,75.8 L254.0,74.5 L255.3,72.2 L257.6,71.4 L259.5,69.5 L260.9,67.2 L262.8,65.2 L262.7,62.7 L263.3,60.2 L263.5,57.7 L264.0,55.2 L263.3,52.7 L264.2,50.1 L263.8,47.6 L263.3,45.1 L262.3,42.7 L262.6,40.0 L264.2,38.4 L266.1,37.2 L267.0,34.9 L268.9,33.6 L271.7,33.8 L273.9,32.0 L276.4,31.7 L279.0,31.2 L281.5,31.0 L283.9,30.0 L286.4,29.4 L288.9,29.5 L290.0,32.1 L290.1,34.9 L290.3,37.7 L291.6,39.7 L293.6,41.3 L295.1,43.2 L296.6,45.1 L299.1,43.8 L301.7,42.7 L304.4,41.3 L306.1,43.8 L307.7,46.5 L308.3,48.7 L309.9,50.5 L310.6,52.5 L312.6,53.5 L314.7,54.3 L316.9,54.9 L319.4,55.1 L320.7,57.0 L320.6,59.5 L321.8,61.3 L324.0,62.0 L326.2,60.8 L328.4,61.0 L330.5,61.5 L331.3,63.9 L332.7,65.8 L334.2,67.7 L333.4,70.8 L333.1,74.1 L335.8,74.3 L338.1,75.8 L340.5,76.4 L342.8,75.3 L345.3,75.0 L347.4,73.8 L348.1,71.6 L348.6,69.4 L349.9,67.7 L352.5,68.8 L352.3,71.1 L352.3,73.3 L352.6,75.6 L352.0,77.8 L352.6,79.9 L354.2,82.2 L356.7,83.4 L358.9,84.9 L361.2,86.0 L363.3,87.4 L365.3,89.2 L367.7,90.1 L370.2,92.0 L372.7,93.9 L375.2,93.5 L377.7,93.9 L380.2,93.4 L382.7,93.8 L385.4,94.3 L387.8,95.5 L390.3,96.4 L393.2,96.9 L396.1,96.4 L398.8,96.5 L400.3,98.5 L402.2,100.2 L404.0,101.9 L405.3,104.1 L407.2,105.3 L409.7,105.3 L411.6,106.3 L413.7,107.3 L416.0,106.8 L418.2,107.1 L420.4,107.8 L423.4,106.5 L426.8,106.4 L428.7,107.9 L431.3,108.4 L433.0,110.3 L435.6,110.3 L437.9,111.7 L440.5,111.5 L443.1,111.6 L445.6,111.8 L447.8,112.7 L446.6,115.1 L446.0,117.7 L445.6,120.4 L444.1,122.1 L443.3,124.2 L441.2,125.6 L440.5,127.8 L439.6,130.3 L438.3,132.7 L437.6,135.3 L436.6,137.9 L436.8,140.4 L435.8,142.7 L435.1,145.1 L435.6,147.6 L434.9,150.0 L434.5,152.5 L434.7,155.1 L434.7,157.6 L433.4,160.0 L433.4,162.6 L434.0,165.1 L433.3,167.7 L434.0,170.2 L434.1,172.6 L433.2,174.9 L431.7,176.9 L430.5,179.1 L427.5,180.1 L424.1,180.4 L421.7,179.2 L419.3,179.1 L418.0,181.6 L416.4,184.1 L417.9,187.8 L416.4,189.5 L414.7,190.9 L413.5,192.7 L411.5,193.9 L409.6,195.8 L407.8,197.8 L406.6,200.3 L404.6,202.7 L402.7,205.3 L402.3,207.9 L402.8,210.4 L401.5,213.3 L398.9,215.3 L397.3,217.5 L396.0,219.9 L394.3,221.7 L394.2,224.9 L394.8,228.0 L393.3,230.0 L392.5,232.2 L392.5,234.8 L391.0,236.6 L393.4,236.8 L395.7,236.6 L397.5,234.3 L399.2,232.0 L400.4,229.4 L402.9,228.4 L405.5,227.5 L407.8,226.2 L410.1,226.6 L412.6,225.9 L415.1,226.7 L415.7,228.8 L415.2,231.1 L415.9,233.3 L416.2,235.4 L417.4,237.8 L419.7,239.4 L420.9,241.8 L421.2,244.3 L421.0,246.8 L420.0,249.7 L417.8,251.9 L419.2,254.1 L420.5,256.3 L422.1,258.2 L424.1,259.8 L425.5,261.8 L426.9,264.0 L427.4,267.1 L427.8,270.2 L426.2,272.9 L424.3,275.5 L422.2,276.9 L419.8,277.8 L417.5,278.9 L415.6,280.3 L415.1,282.8 L415.3,285.4 L416.9,287.1 L419.3,287.6 L420.8,289.5 L423.0,290.3 L424.6,293.1 L426.7,295.4 L426.0,298.2 L424.6,300.6 L423.1,302.9 L422.7,305.2 L422.9,307.4 L423.5,309.6 L424.0,311.9 L426.0,313.1 L426.9,315.3 L429.1,316.2 L430.6,317.8 L433.1,318.4 L435.4,319.8 L437.9,320.2 L440.5,320.7 L443.8,320.4 L446.8,319.2 L447.0,321.8 L448.1,324.3 L447.7,327.4 L446.3,329.9 L445.3,332.5 L443.9,334.9 L442.5,336.6 L440.7,338.0 L439.6,340.1 L437.7,341.3 L435.3,341.9 L433.2,343.1 L431.6,345.2 L430.0,347.5 L426.7,347.7 L425.2,350.2 L424.3,352.8 L422.3,354.7 L420.5,356.5 L419.2,358.4 L419.1,360.8 L417.8,362.9 L415.7,364.1 L413.4,365.0 L411.4,366.5 L412.7,370.6 L410.6,369.3 L408.1,370.7 L406.0,370.0 L403.6,369.3 L401.6,367.5 L400.1,365.1 L397.6,365.5 L395.6,367.3 L393.2,367.8 L391.0,365.9 L388.4,364.7 L385.6,364.1 L383.5,363.0 L381.1,363.2 L378.7,363.1 L377.0,361.5 L375.8,358.9 L374.1,356.7 L373.2,353.9 L370.6,352.9 L367.6,354.0 L364.0,353.7 L361.8,355.3 L360.5,357.7 L357.4,357.5 L354.4,357.0 L352.6,355.3 L350.3,354.6 L348.1,353.6 L345.4,354.1 L342.8,353.9 L340.5,352.6 L337.9,351.2 L335.6,350.1 L333.1,351.2 L330.5,352.1 L327.7,352.6 L326.3,355.0 L323.9,356.0 L322.3,357.9 L319.5,358.4 L317.5,360.0 L316.3,362.0 L314.7,363.5 L312.7,364.7 L311.3,366.4 L309.7,368.0 L307.4,369.0 L307.4,371.4 L305.6,373.3 L306.2,376.0 L304.7,377.9 L305.8,380.4 L304.4,383.0 L304.0,385.5 L304.8,388.2 L307.1,390.2 L307.9,392.9 L309.3,395.7 L308.5,397.9 L306.5,399.4 L304.3,399.1 L302.0,399.6 L299.9,398.0 L297.5,397.7 L295.6,400.4 L292.8,401.6 L290.2,401.1 L287.7,400.4 L284.9,400.6 L282.6,399.1 L280.0,398.6 L277.5,399.5 L275.0,399.4 L272.5,400.5 L270.6,399.0 L270.1,396.6 L267.8,394.9 L265.3,393.7 L263.3,391.4 L261.0,390.0 L258.1,390.9 L255.6,390.0 L253.3,388.9 L251.3,388.0 L249.2,387.0 L247.1,386.2 L245.3,384.7 L243.0,384.6 L240.7,383.7 L238.9,381.8 L236.4,381.6 L234.4,380.2 L231.9,380.5 L230.9,383.1 L229.2,385.0 L227.2,386.2 L225.0,386.6 L222.8,387.0 L220.5,387.1 L217.9,387.2 L215.5,386.1 L213.0,385.1 L210.5,384.9 L207.8,385.6 L204.9,385.1 L202.9,383.0 L200.4,381.7 L198.2,382.3 L196.0,382.6 L193.8,382.5 L191.7,381.6 L189.0,379.7 L187.9,376.4 L185.0,376.0 L183.2,373.3 L180.5,372.5 L177.7,372.2 L175.2,371.2 L172.6,370.5 L170.2,369.4 L167.7,368.8 L164.8,367.9 L165.6,364.5 L164.1,361.2 L161.4,361.1 L158.9,359.9 L156.2,359.1 L154.4,355.2 L156.8,355.0 L159.0,354.0 L160.2,351.9 L161.9,350.0 L162.7,347.7 L164.1,345.4 L165.2,342.9 L165.1,340.0 L166.3,337.7 L167.8,335.3 L168.3,332.8 L167.8,330.0 L169.5,327.7 L169.8,325.1 L170.6,322.7 L170.8,320.1 L170.8,317.5 L171.5,315.0 L172.2,312.6 L172.4,310.1 L173.6,307.6 L173.8,305.1 L173.4,302.5 L173.9,300.0 L174.4,297.6 L174.5,295.2 L174.8,292.8 L175.4,290.4 L175.8,288.0 L176.8,285.6 L176.3,283.0 L176.1,280.4 L177.5,278.0 L177.1,275.4 L177.5,272.9 L177.8,270.3 L178.4,267.8 L178.6,265.3 L179.1,262.9 L181.5,260.4 L180.2,258.5 L179.1,256.5 L178.3,254.0 L177.0,251.6 L176.6,249.0 L175.1,247.1 L174.6,244.9 L174.0,242.7 L175.9,240.2 L177.9,237.8 L180.1,236.2 L181.7,233.9 L180.3,230.0 L177.1,229.7 L173.8,229.3 L172.2,226.3 L168.1,228.1 L166.3,225.3 L166.1,222.2 L162.6,222.0 L161.8,219.4 L160.4,217.5 L158.7,215.7 L159.5,212.4 L154.8,212.6 L156.1,208.9 L153.2,207.9 L152.9,205.5 L154.3,202.7 L151.3,200.6 L151.7,198.0 L149.4,195.9 L148.1,193.5 L148.4,191.0 L147.4,188.7 L144.3,188.4 L144.0,185.4 L142.3,182.8 L140.9,179.7 L138.5,178.7 L135.9,177.9 L133.6,176.9 L132.9,173.8 L130.6,172.0 L128.2,170.8 L125.0,172.1 L122.6,170.9 L119.7,171.0 L117.2,170.0 L115.6,167.1 L114.0,165.1 L110.5,167.0 L108.1,166.7 L106.8,164.3 L105.4,162.3 L102.2,161.3 L99.9,159.6 L97.2,159.4 L94.8,157.9 L92.3,156.4 L91.9,153.4 L90.1,151.1 L87.2,150.3 L84.0,152.1 L81.1,150.1 L82.6,148.3 L82.7,145.9 L84.1,144.4 L85.8,142.6 L87.4,140.5 L90.1,139.9 L88.0,138.0 L84.8,139.1 L82.5,137.6 L82.9,134.3Z" fill="none" stroke="#17171e" stroke-width="1.1" stroke-linejoin="round"/>
<path d="M504.4,364.0 L506.8,366.5 L506.8,368.5 L507.6,370.5 L506.9,372.5 L507.1,374.5 L507.6,376.5 L508.2,378.6 L509.3,380.6 L509.5,382.8 L509.6,384.9 L510.1,386.9 L510.8,388.9 L511.9,390.8 L512.0,392.9 L511.6,394.9 L512.4,396.9 L512.3,398.9 L512.8,400.9 L512.6,402.9 L512.0,404.9 L512.2,407.1 L512.0,409.3 L511.6,411.3 L511.5,413.5 L510.8,415.5 L509.9,417.4 L509.8,419.5 L508.9,421.4 L508.2,423.4 L508.0,425.5 L507.9,427.8 L507.0,429.9 L506.7,432.2 L505.6,434.4 L503.3,433.7 L501.4,432.1 L498.9,431.7 L496.8,430.6 L494.1,430.3 L493.1,427.3 L490.1,426.9 L489.0,424.5 L490.1,421.7 L489.2,419.4 L487.7,417.9 L485.6,417.2 L483.8,415.4 L485.5,413.1 L485.2,410.8 L484.7,407.6 L481.7,406.7 L482.5,404.7 L482.5,402.5 L482.6,400.7 L480.6,399.6 L481.3,396.5 L479.5,395.5 L480.4,393.4 L479.8,390.7 L481.5,388.8 L482.9,387.1 L486.0,387.0 L487.5,385.4 L488.0,382.8 L489.9,381.8 L491.7,380.6 L493.5,379.6 L495.8,379.5 L497.6,378.2 L499.4,377.0 L501.6,376.5 L501.4,374.5 L501.9,372.5 L501.9,370.5 L501.7,368.5 L501.8,366.4Z" fill="none" stroke="#5a0a0a" stroke-width="1.3" stroke-linejoin="round"/>
<g clip-path="url(#brc)"><path d="M80.9,131.1 L82.7,128.5 L85.0,126.5 L87.2,123.7 L89.9,124.3 L92.8,125.9 L95.5,125.9 L97.7,124.4 L100.2,123.8 L102.6,122.6 L105.0,123.7 L107.5,124.4 L110.3,122.6 L113.1,124.4 L115.1,123.4 L117.0,122.1 L118.1,119.6 L120.2,118.7 L122.7,120.5 L125.2,117.1 L127.8,120.9 L130.1,118.9 L132.1,121.3 L134.2,123.6 L135.2,125.8 L136.4,127.9 L137.3,130.2 L139.5,131.4 L142.0,133.1 L145.2,132.2 L146.5,129.2 L149.4,130.9 L152.8,129.7 L155.9,130.8 L157.3,126.6 L160.5,127.4 L163.2,127.5 L164.9,130.9 L168.0,130.3 L171.0,130.7 L174.1,131.0 L176.7,128.8 L175.2,126.1 L175.7,123.0 L173.9,120.6 L175.7,118.0 L174.2,115.6 L173.8,113.4 L176.0,110.8 L173.7,108.9 L173.7,106.6 L172.7,104.5 L173.3,101.6 L170.4,100.5 L167.6,98.6 L167.6,95.4 L166.9,92.2 L166.6,89.2 L163.5,87.6 L164.1,84.3 L165.7,85.8 L167.9,86.9 L170.0,87.8 L172.6,85.0 L174.4,88.3 L176.5,87.4 L180.5,85.8 L183.6,88.3 L183.2,90.6 L182.6,92.9 L183.0,96.1 L184.3,99.1 L186.3,100.2 L188.0,101.9 L190.5,101.3 L193.0,102.0 L195.5,101.5 L198.0,101.9 L200.4,102.8 L203.1,102.7 L205.4,104.1 L208.0,104.0 L210.6,104.2 L213.1,104.6 L215.6,104.1 L218.5,102.4 L220.9,99.9 L220.9,97.5 L222.2,95.4 L221.9,91.5 L223.6,89.9 L225.7,88.7 L226.9,86.4 L229.5,85.8 L231.4,84.0 L233.9,83.4 L235.8,81.7 L238.3,80.9 L240.5,79.6 L243.0,78.9 L245.3,78.5 L247.7,77.9 L249.9,77.0 L252.0,75.8 L254.0,74.5 L255.3,72.2 L257.6,71.4 L259.5,69.5 L260.9,67.2 L262.8,65.2 L262.7,62.7 L263.3,60.2 L263.5,57.7 L264.0,55.2 L263.3,52.7 L264.2,50.1 L263.8,47.6 L263.3,45.1 L262.3,42.7 L262.6,40.0 L264.2,38.4 L266.1,37.2 L267.0,34.9 L268.9,33.6 L271.7,33.8 L273.9,32.0 L276.4,31.7 L279.0,31.2 L281.5,31.0 L283.9,30.0 L286.4,29.4 L288.9,29.5 L290.0,32.1 L290.1,34.9 L290.3,37.7 L291.6,39.7 L293.6,41.3 L295.1,43.2 L296.6,45.1 L299.1,43.8 L301.7,42.7 L304.4,41.3 L306.1,43.8 L307.7,46.5 L308.3,48.7 L309.9,50.5 L310.6,52.5 L312.6,53.5 L314.7,54.3 L316.9,54.9 L319.4,55.1 L320.7,57.0 L320.6,59.5 L321.8,61.3 L324.0,62.0 L326.2,60.8 L328.4,61.0 L330.5,61.5 L331.3,63.9 L332.7,65.8 L334.2,67.7 L333.4,70.8 L333.1,74.1 L335.8,74.3 L338.1,75.8 L340.5,76.4 L342.8,75.3 L345.3,75.0 L347.4,73.8 L348.1,71.6 L348.6,69.4 L349.9,67.7 L352.5,68.8 L352.3,71.1 L352.3,73.3 L352.6,75.6 L352.0,77.8 L352.6,79.9 L354.2,82.2 L356.7,83.4 L358.9,84.9 L361.2,86.0 L363.3,87.4 L365.3,89.2 L367.7,90.1 L370.2,92.0 L372.7,93.9 L375.2,93.5 L377.7,93.9 L380.2,93.4 L382.7,93.8 L385.4,94.3 L387.8,95.5 L390.3,96.4 L393.2,96.9 L396.1,96.4 L398.8,96.5 L400.3,98.5 L402.2,100.2 L404.0,101.9 L405.3,104.1 L407.2,105.3 L409.7,105.3 L411.6,106.3 L413.7,107.3 L416.0,106.8 L418.2,107.1 L420.4,107.8 L423.4,106.5 L426.8,106.4 L428.7,107.9 L431.3,108.4 L433.0,110.3 L435.6,110.3 L437.9,111.7 L440.5,111.5 L443.1,111.6 L445.6,111.8 L447.8,112.7 L446.6,115.1 L446.0,117.7 L445.6,120.4 L444.1,122.1 L443.3,124.2 L441.2,125.6 L440.5,127.8 L439.6,130.3 L438.3,132.7 L437.6,135.3 L436.6,137.9 L436.8,140.4 L435.8,142.7 L435.1,145.1 L435.6,147.6 L434.9,150.0 L434.5,152.5 L434.7,155.1 L434.7,157.6 L433.4,160.0 L433.4,162.6 L434.0,165.1 L433.3,167.7 L434.0,170.2 L434.1,172.6 L433.2,174.9 L431.7,176.9 L430.5,179.1 L427.5,180.1 L424.1,180.4 L421.7,179.2 L419.3,179.1 L418.0,181.6 L416.4,184.1 L417.9,187.8 L416.4,189.5 L414.7,190.9 L413.5,192.7 L411.5,193.9 L409.6,195.8 L407.8,197.8 L406.6,200.3 L404.6,202.7 L402.7,205.3 L402.3,207.9 L402.8,210.4 L401.5,213.3 L398.9,215.3 L397.3,217.5 L396.0,219.9 L394.3,221.7 L394.2,224.9 L394.8,228.0 L393.3,230.0 L392.5,232.2 L392.5,234.8 L391.0,236.6 L393.4,236.8 L395.7,236.6 L397.5,234.3 L399.2,232.0 L400.4,229.4 L402.9,228.4 L405.5,227.5 L407.8,226.2 L410.1,226.6 L412.6,225.9 L415.1,226.7 L415.7,228.8 L415.2,231.1 L415.9,233.3 L416.2,235.4 L417.4,237.8 L419.7,239.4 L420.9,241.8 L421.2,244.3 L421.0,246.8 L420.0,249.7 L417.8,251.9 L419.2,254.1 L420.5,256.3 L422.1,258.2 L424.1,259.8 L425.5,261.8 L426.9,264.0 L427.4,267.1 L427.8,270.2 L426.2,272.9 L424.3,275.5 L422.2,276.9 L419.8,277.8 L417.5,278.9 L415.6,280.3 L415.1,282.8 L415.3,285.4 L416.9,287.1 L419.3,287.6 L420.8,289.5 L423.0,290.3 L424.6,293.1 L426.7,295.4 L426.0,298.2 L424.6,300.6 L423.1,302.9 L422.7,305.2 L422.9,307.4 L423.5,309.6 L424.0,311.9 L426.0,313.1 L426.9,315.3 L429.1,316.2 L430.6,317.8 L433.1,318.4 L435.4,319.8 L437.9,320.2 L440.5,320.7 L443.8,320.4 L446.8,319.2 L447.0,321.8 L448.1,324.3 L447.7,327.4 L446.3,329.9 L445.3,332.5 L443.9,334.9 L442.5,336.6 L440.7,338.0 L439.6,340.1 L437.7,341.3 L435.3,341.9 L433.2,343.1 L431.6,345.2 L430.0,347.5 L426.7,347.7 L425.2,350.2 L424.3,352.8 L422.3,354.7 L420.5,356.5 L419.2,358.4 L419.1,360.8 L417.8,362.9 L415.7,364.1 L413.4,365.0 L411.4,366.5 L412.7,370.6 L410.6,369.3 L408.1,370.7 L406.0,370.0 L403.6,369.3 L401.6,367.5 L400.1,365.1 L397.6,365.5 L395.6,367.3 L393.2,367.8 L391.0,365.9 L388.4,364.7 L385.6,364.1 L383.5,363.0 L381.1,363.2 L378.7,363.1 L377.0,361.5 L375.8,358.9 L374.1,356.7 L373.2,353.9 L370.6,352.9 L367.6,354.0 L364.0,353.7 L361.8,355.3 L360.5,357.7 L357.4,357.5 L354.4,357.0 L352.6,355.3 L350.3,354.6 L348.1,353.6 L345.4,354.1 L342.8,353.9 L340.5,352.6 L337.9,351.2 L335.6,350.1 L333.1,351.2 L330.5,352.1 L327.7,352.6 L326.3,355.0 L323.9,356.0 L322.3,357.9 L319.5,358.4 L317.5,360.0 L316.3,362.0 L314.7,363.5 L312.7,364.7 L311.3,366.4 L309.7,368.0 L307.4,369.0 L307.4,371.4 L305.6,373.3 L306.2,376.0 L304.7,377.9 L305.8,380.4 L304.4,383.0 L304.0,385.5 L304.8,388.2 L307.1,390.2 L307.9,392.9 L309.3,395.7 L308.5,397.9 L306.5,399.4 L304.3,399.1 L302.0,399.6 L299.9,398.0 L297.5,397.7 L295.6,400.4 L292.8,401.6 L290.2,401.1 L287.7,400.4 L284.9,400.6 L282.6,399.1 L280.0,398.6 L277.5,399.5 L275.0,399.4 L272.5,400.5 L270.6,399.0 L270.1,396.6 L267.8,394.9 L265.3,393.7 L263.3,391.4 L261.0,390.0 L258.1,390.9 L255.6,390.0 L253.3,388.9 L251.3,388.0 L249.2,387.0 L247.1,386.2 L245.3,384.7 L243.0,384.6 L240.7,383.7 L238.9,381.8 L236.4,381.6 L234.4,380.2 L231.9,380.5 L230.9,383.1 L229.2,385.0 L227.2,386.2 L225.0,386.6 L222.8,387.0 L220.5,387.1 L217.9,387.2 L215.5,386.1 L213.0,385.1 L210.5,384.9 L207.8,385.6 L204.9,385.1 L202.9,383.0 L200.4,381.7 L198.2,382.3 L196.0,382.6 L193.8,382.5 L191.7,381.6 L189.0,379.7 L187.9,376.4 L185.0,376.0 L183.2,373.3 L180.5,372.5 L177.7,372.2 L175.2,371.2 L172.6,370.5 L170.2,369.4 L167.7,368.8 L164.8,367.9 L165.6,364.5 L164.1,361.2 L161.4,361.1 L158.9,359.9 L156.2,359.1 L154.4,355.2 L156.8,355.0 L159.0,354.0 L160.2,351.9 L161.9,350.0 L162.7,347.7 L164.1,345.4 L165.2,342.9 L165.1,340.0 L166.3,337.7 L167.8,335.3 L168.3,332.8 L167.8,330.0 L169.5,327.7 L169.8,325.1 L170.6,322.7 L170.8,320.1 L170.8,317.5 L171.5,315.0 L172.2,312.6 L172.4,310.1 L173.6,307.6 L173.8,305.1 L173.4,302.5 L173.9,300.0 L174.4,297.6 L174.5,295.2 L174.8,292.8 L175.4,290.4 L175.8,288.0 L176.8,285.6 L176.3,283.0 L176.1,280.4 L177.5,278.0 L177.1,275.4 L177.5,272.9 L177.8,270.3 L178.4,267.8 L178.6,265.3 L179.1,262.9 L181.5,260.4 L180.2,258.5 L179.1,256.5 L178.3,254.0 L177.0,251.6 L176.6,249.0 L175.1,247.1 L174.6,244.9 L174.0,242.7 L175.9,240.2 L177.9,237.8 L180.1,236.2 L181.7,233.9 L180.3,230.0 L177.1,229.7 L173.8,229.3 L172.2,226.3 L168.1,228.1 L166.3,225.3 L166.1,222.2 L162.6,222.0 L161.8,219.4 L160.4,217.5 L158.7,215.7 L159.5,212.4 L154.8,212.6 L156.1,208.9 L153.2,207.9 L152.9,205.5 L154.3,202.7 L151.3,200.6 L151.7,198.0 L149.4,195.9 L148.1,193.5 L148.4,191.0 L147.4,188.7 L144.3,188.4 L144.0,185.4 L142.3,182.8 L140.9,179.7 L138.5,178.7 L135.9,177.9 L133.6,176.9 L132.9,173.8 L130.6,172.0 L128.2,170.8 L125.0,172.1 L122.6,170.9 L119.7,171.0 L117.2,170.0 L115.6,167.1 L114.0,165.1 L110.5,167.0 L108.1,166.7 L106.8,164.3 L105.4,162.3 L102.2,161.3 L99.9,159.6 L97.2,159.4 L94.8,157.9 L92.3,156.4 L91.9,153.4 L90.1,151.1 L87.2,150.3 L84.0,152.1 L81.1,150.1 L82.6,148.3 L82.7,145.9 L84.1,144.4 L85.8,142.6 L87.4,140.5 L90.1,139.9 L88.0,138.0 L84.8,139.1 L82.5,137.6 L82.9,134.3Z" fill="none" stroke="#0e0e14" stroke-width="1.6" stroke-linejoin="round"/></g>
<ellipse cx="101.7" cy="166.1" rx="1.1" ry="0.8" fill="#0c0c12"/>
<ellipse cx="115.4" cy="169.8" rx="1.2" ry="0.8" fill="#0c0c12"/>
<ellipse cx="122.9" cy="182.3" rx="2.4" ry="1.3" fill="#0c0c12"/>
<ellipse cx="130.3" cy="181" rx="1.1" ry="0.8" fill="#0c0c12"/>
<ellipse cx="149" cy="199.7" rx="1.6" ry="1.6" fill="#0c0c12"/>
<ellipse cx="145.3" cy="211" rx="1.9" ry="0.9" fill="#0c0c12"/>
<ellipse cx="165.2" cy="120" rx="0.9" ry="0.9" fill="#0c0c12"/>
<ellipse cx="91.7" cy="138.7" rx="1.0" ry="0.7" fill="#0c0c12"/>
<ellipse cx="86" cy="141.5" rx="0.9" ry="0.6" fill="#0c0c12"/>
<ellipse cx="110" cy="166.5" rx="0.8" ry="0.6" fill="#0c0c12"/>
<ellipse cx="134" cy="187" rx="0.8" ry="0.6" fill="#0c0c12"/>
<path d="M169.5,230.5 L173,229 L177,230 L180.5,229.5 L181.5,232.5 L178,233.5 L174,232.5 L171,233.5 Z" fill="#ffffff" stroke="#15151c" stroke-width="1.1" stroke-linejoin="round"/>
<path d="M172,243 L175.5,242.5 L178.5,245.5 L178,249.5 L175,250 L173,247 Z" fill="#ffffff" stroke="#15151c" stroke-width="1" stroke-linejoin="round"/>
<path d="M363.5,354 L366,351.5 L369,352.2 L368,354.6 L370.5,355 L369.5,357 L366.5,356.2 Z" fill="#ffffff" stroke="#15151c" stroke-width="0.9" stroke-linejoin="round"/>
<ellipse cx="404" cy="371.6" rx="1.6" ry="0.8" fill="#0c0c12"/><ellipse cx="412.6" cy="370.6" rx="1.8" ry="0.8" fill="#0c0c12"/>
<ellipse cx="178.2" cy="299.3" rx="2" ry="1.7" fill="#ffffff" stroke="#15151c" stroke-width="0.9"/>

</g>
<!-- titles -->
<g fill="#181d5a" stroke="#181d5a" stroke-width="0.25">
<text x="16" y="33.9" font-size="23.8" textLength="35.5" lengthAdjust="spacingAndGlyphs">FIN</text>
<text x="58.2" y="33.9" font-size="23.8" textLength="63.6" lengthAdjust="spacingAndGlyphs">AOÛT</text>
<text x="129.2" y="33.9" font-size="24" font-weight="bold" textLength="54.6" lengthAdjust="spacingAndGlyphs">2020</text>
<text x="355" y="32.8" font-size="20" textLength="264" lengthAdjust="spacingAndGlyphs">Écart à la normale de l'indice</text>
<text x="443.7" y="56.2" font-size="20" textLength="175.3" lengthAdjust="spacingAndGlyphs">d'humidité des sols</text>
</g>
<!-- legend -->
<rect x="553.5" y="103.20" width="14" height="19.04" fill="#1c56e8"/>
<rect x="553.5" y="121.94" width="14" height="19.04" fill="#2a6ef2"/>
<rect x="553.5" y="140.69" width="14" height="19.04" fill="#3a88f4"/>
<rect x="553.5" y="159.43" width="14" height="19.04" fill="#4aa2f7"/>
<rect x="553.5" y="178.18" width="14" height="19.04" fill="#62b4f8"/>
<rect x="553.5" y="196.92" width="14" height="19.04" fill="#82c6fa"/>
<rect x="553.5" y="215.67" width="14" height="19.04" fill="#a6d8fb"/>
<rect x="553.5" y="234.41" width="14" height="19.04" fill="#c6e6fa"/>
<rect x="553.5" y="253.16" width="14" height="19.04" fill="#e6f0f5"/>
<rect x="553.5" y="271.90" width="14" height="19.04" fill="#fee4df"/>
<rect x="553.5" y="290.64" width="14" height="19.04" fill="#fdd2cc"/>
<rect x="553.5" y="309.39" width="14" height="19.04" fill="#fcbcb5"/>
<rect x="553.5" y="328.13" width="14" height="19.04" fill="#fba39b"/>
<rect x="553.5" y="346.88" width="14" height="19.04" fill="#fb857b"/>
<rect x="553.5" y="365.62" width="14" height="19.04" fill="#f8685c"/>
<rect x="553.5" y="384.37" width="14" height="19.04" fill="#f2453a"/>
<rect x="553.5" y="403.11" width="14" height="19.04" fill="#e62a22"/>
<rect x="553.5" y="421.86" width="14" height="19.04" fill="#cc1a16"/>
<path d="M553.5,103.2 L560.5,96 L567.5,103.2 Z" fill="#1a48cc" stroke="#060c38" stroke-width="1.6" stroke-linejoin="round"/>
<path d="M553.5,440.6 L560.5,447.6 L567.5,440.6 Z" fill="#8a0c0a" stroke="#220403" stroke-width="1.6" stroke-linejoin="round"/>
<path d="M553.5,103.2 V440.6 M567.5,103.2 V440.6" stroke="#0c1020" stroke-width="1.5" fill="none"/>
<line x1="554" x2="567" y1="103.20" y2="103.20" stroke="#101830" stroke-width="0.8" opacity="0.4"/>
<line x1="567.5" x2="574.3" y1="103.20" y2="103.20" stroke="#101018" stroke-width="0.9" opacity="0.85"/>
<text x="580.6" y="106.30" font-size="10.6" textLength="28.3" lengthAdjust="spacingAndGlyphs" fill="#1a1a1e" stroke="#1a1a1e" stroke-width="0.15">+90%</text>
<line x1="554" x2="567" y1="121.94" y2="121.94" stroke="#101830" stroke-width="0.8" opacity="0.4"/>
<line x1="567.5" x2="574.3" y1="121.94" y2="121.94" stroke="#101018" stroke-width="0.9" opacity="0.85"/>
<text x="580.6" y="125.06" font-size="10.6" textLength="28.3" lengthAdjust="spacingAndGlyphs" fill="#1a1a1e" stroke="#1a1a1e" stroke-width="0.15">+80%</text>
<line x1="554" x2="567" y1="140.69" y2="140.69" stroke="#101830" stroke-width="0.8" opacity="0.4"/>
<line x1="567.5" x2="574.3" y1="140.69" y2="140.69" stroke="#101018" stroke-width="0.9" opacity="0.85"/>
<text x="580.6" y="143.82" font-size="10.6" textLength="28.3" lengthAdjust="spacingAndGlyphs" fill="#1a1a1e" stroke="#1a1a1e" stroke-width="0.15">+70%</text>
<line x1="554" x2="567" y1="159.43" y2="159.43" stroke="#101830" stroke-width="0.8" opacity="0.4"/>
<line x1="567.5" x2="574.3" y1="159.43" y2="159.43" stroke="#101018" stroke-width="0.9" opacity="0.85"/>
<text x="580.6" y="162.58" font-size="10.6" textLength="28.3" lengthAdjust="spacingAndGlyphs" fill="#1a1a1e" stroke="#1a1a1e" stroke-width="0.15">+60%</text>
<line x1="554" x2="567" y1="178.18" y2="178.18" stroke="#101830" stroke-width="0.8" opacity="0.4"/>
<line x1="567.5" x2="574.3" y1="178.18" y2="178.18" stroke="#101018" stroke-width="0.9" opacity="0.85"/>
<text x="580.6" y="181.34" font-size="10.6" textLength="28.3" lengthAdjust="spacingAndGlyphs" fill="#1a1a1e" stroke="#1a1a1e" stroke-width="0.15">+50%</text>
<line x1="554" x2="567" y1="196.92" y2="196.92" stroke="#101830" stroke-width="0.8" opacity="0.4"/>
<line x1="567.5" x2="574.3" y1="196.92" y2="196.92" stroke="#101018" stroke-width="0.9" opacity="0.85"/>
<text x="580.6" y="200.11" font-size="10.6" textLength="28.3" lengthAdjust="spacingAndGlyphs" fill="#1a1a1e" stroke="#1a1a1e" stroke-width="0.15">+40%</text>
<line x1="554" x2="567" y1="215.67" y2="215.67" stroke="#101830" stroke-width="0.8" opacity="0.4"/>
<line x1="567.5" x2="574.3" y1="215.67" y2="215.67" stroke="#101018" stroke-width="0.9" opacity="0.85"/>
<text x="580.6" y="218.87" font-size="10.6" textLength="28.3" lengthAdjust="spacingAndGlyphs" fill="#1a1a1e" stroke="#1a1a1e" stroke-width="0.15">+30%</text>
<line x1="554" x2="567" y1="234.41" y2="234.41" stroke="#101830" stroke-width="0.8" opacity="0.4"/>
<line x1="567.5" x2="574.3" y1="234.41" y2="234.41" stroke="#101018" stroke-width="0.9" opacity="0.85"/>
<text x="580.6" y="237.63" font-size="10.6" textLength="28.3" lengthAdjust="spacingAndGlyphs" fill="#1a1a1e" stroke="#1a1a1e" stroke-width="0.15">+20%</text>
<line x1="554" x2="567" y1="253.16" y2="253.16" stroke="#101830" stroke-width="0.8" opacity="0.4"/>
<line x1="567.5" x2="574.3" y1="253.16" y2="253.16" stroke="#101018" stroke-width="0.9" opacity="0.85"/>
<text x="580.6" y="256.39" font-size="10.6" textLength="28.3" lengthAdjust="spacingAndGlyphs" fill="#1a1a1e" stroke="#1a1a1e" stroke-width="0.15">+10%</text>
<line x1="554" x2="567" y1="271.90" y2="271.90" stroke="#101830" stroke-width="0.8" opacity="0.4"/>
<line x1="567.5" x2="574.3" y1="271.90" y2="271.90" stroke="#101018" stroke-width="0.9" opacity="0.85"/>
<text x="583.3" y="275.15" font-size="10.6" textLength="24.4" lengthAdjust="spacingAndGlyphs" fill="#1a1a1e" stroke="#1a1a1e" stroke-width="0.15">00 %</text>
<line x1="554" x2="567" y1="290.64" y2="290.64" stroke="#101830" stroke-width="0.8" opacity="0.4"/>
<line x1="567.5" x2="574.3" y1="290.64" y2="290.64" stroke="#101018" stroke-width="0.9" opacity="0.85"/>
<text x="580.5" y="293.91" font-size="10.6" textLength="25.9" lengthAdjust="spacingAndGlyphs" fill="#1a1a1e" stroke="#1a1a1e" stroke-width="0.15">-10%</text>
<line x1="554" x2="567" y1="309.39" y2="309.39" stroke="#101830" stroke-width="0.8" opacity="0.4"/>
<line x1="567.5" x2="574.3" y1="309.39" y2="309.39" stroke="#101018" stroke-width="0.9" opacity="0.85"/>
<text x="580.5" y="312.67" font-size="10.6" textLength="25.9" lengthAdjust="spacingAndGlyphs" fill="#1a1a1e" stroke="#1a1a1e" stroke-width="0.15">-20%</text>
<line x1="554" x2="567" y1="328.13" y2="328.13" stroke="#101830" stroke-width="0.8" opacity="0.4"/>
<line x1="567.5" x2="574.3" y1="328.13" y2="328.13" stroke="#101018" stroke-width="0.9" opacity="0.85"/>
<text x="580.5" y="331.43" font-size="10.6" textLength="25.9" lengthAdjust="spacingAndGlyphs" fill="#1a1a1e" stroke="#1a1a1e" stroke-width="0.15">-30%</text>
<line x1="554" x2="567" y1="346.88" y2="346.88" stroke="#101830" stroke-width="0.8" opacity="0.4"/>
<line x1="567.5" x2="574.3" y1="346.88" y2="346.88" stroke="#101018" stroke-width="0.9" opacity="0.85"/>
<text x="580.5" y="350.19" font-size="10.6" textLength="25.9" lengthAdjust="spacingAndGlyphs" fill="#1a1a1e" stroke="#1a1a1e" stroke-width="0.15">-40%</text>
<line x1="554" x2="567" y1="365.62" y2="365.62" stroke="#101830" stroke-width="0.8" opacity="0.4"/>
<line x1="567.5" x2="574.3" y1="365.62" y2="365.62" stroke="#101018" stroke-width="0.9" opacity="0.85"/>
<text x="580.5" y="368.96" font-size="10.6" textLength="25.9" lengthAdjust="spacingAndGlyphs" fill="#1a1a1e" stroke="#1a1a1e" stroke-width="0.15">-50%</text>
<line x1="554" x2="567" y1="384.37" y2="384.37" stroke="#101830" stroke-width="0.8" opacity="0.4"/>
<line x1="567.5" x2="574.3" y1="384.37" y2="384.37" stroke="#101018" stroke-width="0.9" opacity="0.85"/>
<text x="580.5" y="387.72" font-size="10.6" textLength="25.9" lengthAdjust="spacingAndGlyphs" fill="#1a1a1e" stroke="#1a1a1e" stroke-width="0.15">-60%</text>
<line x1="554" x2="567" y1="403.11" y2="403.11" stroke="#101830" stroke-width="0.8" opacity="0.4"/>
<line x1="567.5" x2="574.3" y1="403.11" y2="403.11" stroke="#101018" stroke-width="0.9" opacity="0.85"/>
<text x="580.5" y="406.48" font-size="10.6" textLength="25.9" lengthAdjust="spacingAndGlyphs" fill="#1a1a1e" stroke="#1a1a1e" stroke-width="0.15">-70%</text>
<line x1="554" x2="567" y1="421.86" y2="421.86" stroke="#101830" stroke-width="0.8" opacity="0.4"/>
<line x1="567.5" x2="574.3" y1="421.86" y2="421.86" stroke="#101018" stroke-width="0.9" opacity="0.85"/>
<text x="580.5" y="425.24" font-size="10.6" textLength="25.9" lengthAdjust="spacingAndGlyphs" fill="#1a1a1e" stroke="#1a1a1e" stroke-width="0.15">-80%</text>
<line x1="554" x2="567" y1="440.60" y2="440.60" stroke="#101830" stroke-width="0.8" opacity="0.4"/>
<line x1="567.5" x2="574.3" y1="440.60" y2="440.60" stroke="#101018" stroke-width="0.9" opacity="0.85"/>
<text x="580.5" y="444.00" font-size="10.6" textLength="25.9" lengthAdjust="spacingAndGlyphs" fill="#1a1a1e" stroke="#1a1a1e" stroke-width="0.15">-90%</text>
<text x="557.8" y="88.9" font-size="5.4" fill="#383838">%</text>

<!-- logo -->
<g>
<rect x="29" y="401" width="35.5" height="34" fill="#0b52a4"/>
<rect x="42.4" y="406.8" width="9.2" height="9.2" rx="0.8" fill="#ffffff"/>
<path d="M47.3,408.3 A3.6,3.35 0 0 0 47.3,415 Q46.3,411.6 47.3,408.3 Z" fill="#0b2f6a"/>
<rect x="48.4" y="408.2" width="1.9" height="6.4" fill="#cfe0f2"/>
<rect x="48.6" y="410.4" width="1.2" height="2" fill="#0b52a4"/>
<text x="35.6" y="423.4" font-size="5.6" font-weight="bold" fill="#fff" stroke="#fff" stroke-width="0.2" textLength="22" lengthAdjust="spacingAndGlyphs">METEO</text>
<text x="35.6" y="429.3" font-size="5.6" font-weight="bold" fill="#fff" stroke="#fff" stroke-width="0.2" textLength="22" lengthAdjust="spacingAndGlyphs">FRANCE</text>
</g>
</svg>
</body></html>
